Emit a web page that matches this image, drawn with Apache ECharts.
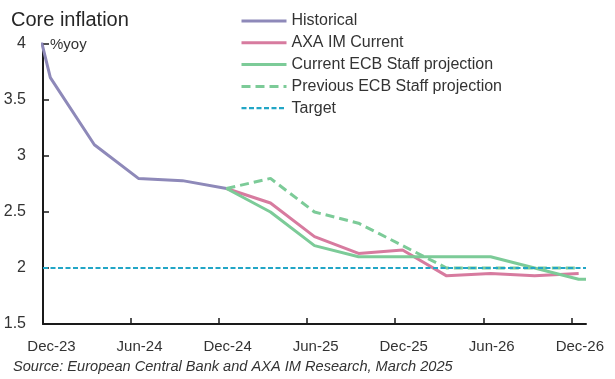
<!DOCTYPE html>
<html>
<head>
<meta charset="utf-8">
<script src="https://cdn.jsdelivr.net/npm/echarts@6/dist/echarts.min.js"></script>
<style>
html,body{margin:0;padding:0;background:#fff;}
#chart{width:615px;height:379px;}
</style>
</head>
<body>
<div id="chart"></div>
<script>
// ---- data ----
const histQuarters = ['Q3-23','Q4-23','Q1-24','Q2-24','Q3-24','Q4-24'];
const historical   = [5.3, 3.7, 3.1, 2.8, 2.78, 2.71];

const projQuarters = ['Q4-24','Q1-25','Q2-25','Q3-25','Q4-25','Q1-26','Q2-26','Q3-26','Q4-26'];
const axaCurrent   = [2.71, 2.58, 2.28, 2.13, 2.16, 1.93, 1.95, 1.93, 1.95];
const ecbCurrent   = [2.71, 2.5, 2.2, 2.1, 2.1, 2.1, 2.1, 2.0, 1.9];
const ecbPrevious  = [2.71, 2.8, 2.5, 2.4, 2.2, 2.0, 2.0, 2.0, 2.0];
const ecbCurrentTail = 1.9;   // line runs flat to end of Dec-26
const target = 2.0;

const tickLabels = ['Dec-23','Jun-24','Dec-24','Jun-25','Dec-25','Jun-26','Dec-26'];
const yTicks = [1.5, 2, 2.5, 3, 3.5, 4];

// months after start of Dec-23; quarter plotted mid of its last month
function qPos(q) {
  const qi = +q[1];
  const yr = 2000 + +q.slice(3);
  return (yr - 2023) * 12 + qi * 3 - 12 + 0.5;
}
const axisEnd = 37; // end of Dec-26
const pairs = (qs, vals) => qs.map((q, i) => [qPos(q), vals[i]]);

const ecbCurData = pairs(projQuarters, ecbCurrent).concat([[axisEnd, ecbCurrentTail]]);

const C_HIST = '#8e89b9', C_AXA = '#d77b9f', C_ECB = '#7ccb98', C_TGT = '#22a6c6';
const FONT = 'Liberation Sans';
const tickVals = tickLabels.map((_, i) => i * 6);

const chart = echarts.init(document.getElementById('chart'), null, {renderer: 'canvas'});
chart.setOption({
  animation: false,
  textStyle: {fontFamily: FONT},
  title: {
    text: 'Core inflation', left: 6, top: 5,
    textStyle: {fontFamily: FONT, fontSize: 20, fontWeight: 'normal', color: '#262626'}
  },
  legend: {
    orient: 'vertical', left: 235, top: 8, itemWidth: 45, itemHeight: 16, itemGap: 5.8,
    itemStyle: {opacity: 0},
    lineStyle: {width: 3},
    textStyle: {fontFamily: FONT, fontSize: 16, color: '#333', lineHeight: 16},
    data: ['Historical','AXA IM Current','Current ECB Staff projection','Previous ECB Staff projection',
           {name: 'Target', lineStyle: {width: 2.2}}]
  },
  graphic: [{
    type: 'text', left: 50, top: 37,
    style: {text: '%yoy', fontFamily: FONT, fontSize: 15, fill: '#333'}
  }, {
    type: 'text', left: 13, top: 359,
    style: {text: 'Source: European Central Bank and AXA IM Research, March 2025', fontFamily: FONT, fontSize: 14.6, fontStyle: 'italic', fill: '#333'}
  }],
  grid: {left: 43, right: 29, top: 44, bottom: 55, containLabel: false},
  xAxis: {
    type: 'value', min: 0, max: axisEnd,
    splitLine: {show: false},
    axisLine: {show: true, lineStyle: {color: '#1a1a1a', width: 2}},
    axisTick: {show: true, inside: true, length: 6, customValues: tickVals, lineStyle: {color: '#1a1a1a', width: 1.5}},
    axisLabel: {
      customValues: tickVals, margin: 15, fontSize: 15, color: '#333', fontFamily: FONT,
      padding: [0, 0, 0, 17],
      formatter: v => tickLabels[Math.round(v / 6)] || ''
    }
  },
  yAxis: {
    type: 'value', min: 1.5, max: 4, interval: 0.5,
    splitLine: {show: false},
    axisLine: {show: true, lineStyle: {color: '#1a1a1a', width: 2}},
    axisTick: {show: true, inside: true, length: 6, lineStyle: {color: '#1a1a1a', width: 1.5}},
    axisLabel: {margin: 17, fontSize: 16, color: '#333', fontFamily: FONT}
  },
  series: [
    {name: 'Historical', type: 'line', symbol: 'none', clip: true,
     data: pairs(histQuarters, historical), lineStyle: {color: C_HIST, width: 3}, itemStyle: {color: C_HIST}},
    {name: 'AXA IM Current', type: 'line', symbol: 'none',
     data: pairs(projQuarters, axaCurrent), lineStyle: {color: C_AXA, width: 3}, itemStyle: {color: C_AXA}},
    {name: 'Current ECB Staff projection', type: 'line', symbol: 'none',
     data: ecbCurData, lineStyle: {color: C_ECB, width: 3}, itemStyle: {color: C_ECB}},
    {name: 'Previous ECB Staff projection', type: 'line', symbol: 'none',
     data: pairs(projQuarters, ecbPrevious), lineStyle: {color: C_ECB, width: 3, type: [9, 5]}, itemStyle: {color: C_ECB}},
    {name: 'Target', type: 'line', symbol: 'none',
     data: [[0, target], [axisEnd, target]], lineStyle: {color: C_TGT, width: 2.2, type: [5, 2.5]}, itemStyle: {color: C_TGT}}
  ]
});
</script>
</body>
</html>
